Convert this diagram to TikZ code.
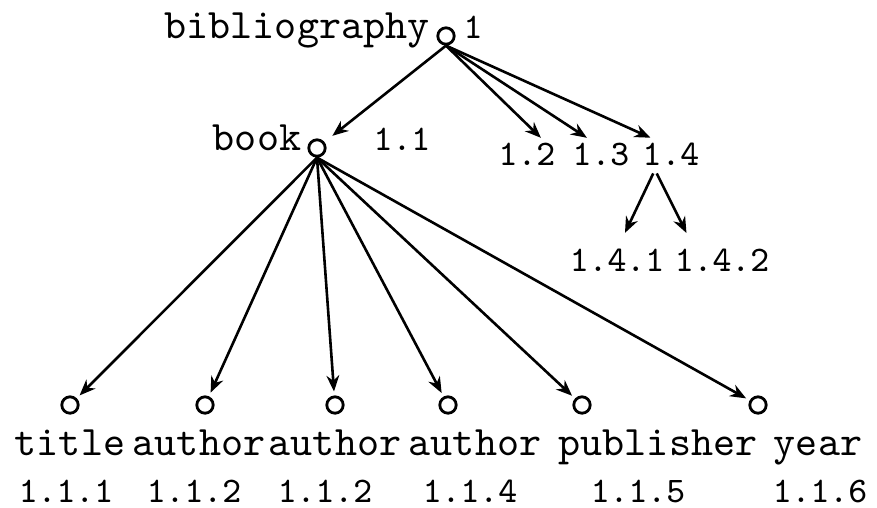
\documentclass[tikz,border=0pt]{standalone}
\usepackage{tikz}
\usetikzlibrary{arrows.meta}
\tikzstyle{vn}=[circle,draw=black,line width=0.7pt,inner sep=0pt,minimum size=4.1pt]
\tikzstyle{tag}=[inner sep=0pt,anchor=base,font=\ttfamily\fontsize{10.5}{12}\selectfont]
\tikzstyle{num}=[inner sep=1pt,anchor=base,font=\ttfamily\fontsize{9}{11}\selectfont]
\tikzstyle{edge}=[line width=0.65pt,-{Stealth[length=4pt,width=3.2pt,inset=1.3pt]}]

\begin{document}
\begin{tikzpicture}[x=0.25pt,y=-0.25pt]
    \useasboundingbox (0,0) rectangle (877,507);
    % root and book
    \node [style=vn] (bib) at (446,36) {};
    \node [style=tag] (tbib) at (297,38) {bibliography};
    \node [style=num] (n1) at (473,38) {1};
    \node [style=vn] (book) at (317,148) {};
    \node [style=tag] (tbook) at (257,150) {book};
    \node [style=num] (n11) at (402,150) {1.1};
    % other children of the root
    \node [style=num] (n12) at (527,165) {1.2};
    \node [style=num] (n13) at (601,165) {1.3};
    \node [style=num] (n14) at (671,165) {1.4};
    \node [style=num] (n141) at (617,271) {1.4.1};
    \node [style=num] (n142) at (722,271) {1.4.2};
    % children of book
    \node [style=vn] (ti) at (70,405) {};
    \node [style=vn] (au1) at (205,405) {};
    \node [style=vn] (au2) at (335,405) {};
    \node [style=vn] (au3) at (448,405) {};
    \node [style=vn] (pub) at (582,405) {};
    \node [style=vn] (yr) at (758,405) {};
    \node [style=tag] (tti) at (70,455) {title};
    \node [style=tag] (tau1) at (199,455) {author};
    \node [style=tag] (tau2) at (335,455) {author};
    \node [style=tag] (tau3) at (475,455) {author};
    \node [style=tag] (tpub) at (658,455) {publisher};
    \node [style=tag] (tyr) at (818,455) {year};
    \node [style=num] (n111) at (66,502) {1.1.1};
    \node [style=num] (n112) at (194,502) {1.1.2};
    \node [style=num] (n112b) at (325,502) {1.1.2};
    \node [style=num] (n114) at (470,502) {1.1.4};
    \node [style=num] (n115) at (638,502) {1.1.5};
    \node [style=num] (n116) at (820,502) {1.1.6};
    \draw [style=edge, shorten >=2.5pt] (bib.south) to (book);
    \draw [style=edge] (bib.south) to (n12.49);
    \draw [style=edge] (bib.south) to (n13.131);
    \draw [style=edge] (bib.south) to (n14.142);
    \draw [style=edge, shorten <=1pt, shorten >=3pt] (n14.225) to (n141.80);
    \draw [style=edge, shorten <=1pt, shorten >=3pt] (n14.225) to (n142.152);
    \draw [style=edge, shorten >=1pt] (book.south) to (ti);
    \draw [style=edge, shorten >=1pt] (book.south) to (au1);
    \draw [style=edge, shorten >=1pt] (book.south) to (au2);
    \draw [style=edge, shorten >=1pt] (book.south) to (au3);
    \draw [style=edge, shorten >=1pt] (book.south) to (pub);
    \draw [style=edge, shorten >=1pt] (book.south) to (yr);
\end{tikzpicture}
\end{document}
